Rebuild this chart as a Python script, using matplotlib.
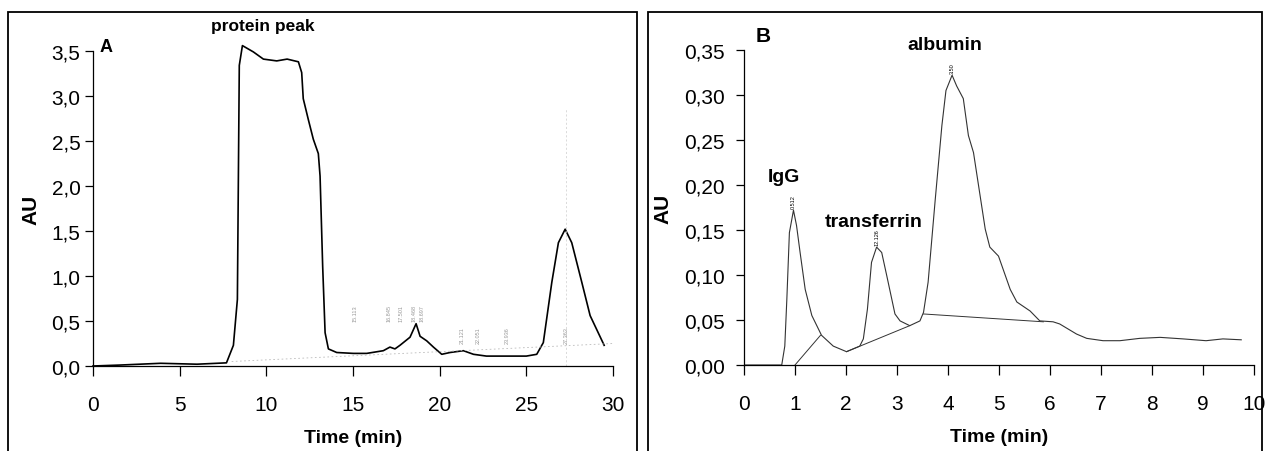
import matplotlib.pyplot as plt
from matplotlib.patches import Rectangle
from matplotlib.ticker import FuncFormatter

plt.rcParams['font.family'] = ['Liberation Sans', 'DejaVu Sans']

# panel A: whole sample chromatogram (time in min, absorbance AU)
a_time = [0.0, 1.5, 3.9, 6.0, 7.7, 8.1, 8.33, 8.44, 8.62, 9.25, 9.83, 10.6, 11.2, 11.85,
          12.04, 12.13, 12.42, 12.71, 13.0, 13.1, 13.25, 13.39, 13.58, 14.06, 15.02, 15.79,
          16.75, 17.13, 17.42, 17.71, 18.29, 18.64, 18.87, 19.25, 19.64, 20.12, 20.6,
          21.37, 21.95, 22.7, 24.06, 25.0, 25.6, 25.98, 26.47, 26.85, 27.24, 27.62, 28.2,
          28.68, 29.49]
a_au = [0.0, 0.01, 0.03, 0.02, 0.035, 0.23, 0.74, 3.34, 3.56, 3.49, 3.41, 3.39, 3.41, 3.38,
        3.26, 2.97, 2.74, 2.52, 2.36, 2.11, 1.11, 0.37, 0.19, 0.15, 0.14, 0.14,
        0.17, 0.21, 0.19, 0.23, 0.32, 0.47, 0.33, 0.28, 0.21, 0.13, 0.15,
        0.17, 0.13, 0.11, 0.11, 0.11, 0.13, 0.26, 0.93, 1.37, 1.52, 1.37, 0.93,
        0.56, 0.23]
a_peak_labels = [(15.1, '15.113'), (17.1, '16.845'), (17.8, '17.501'), (18.5, '18.468'),
                 (19.0, '18.697'), (21.3, '21.121'), (22.2, '22.051'), (23.9, '23.936'),
                 (27.3, '27.363')]

# panel B: purified fraction chromatogram
b_time = [0.0, 0.74, 0.80, 0.84, 0.89, 0.97, 1.03, 1.10, 1.20, 1.33, 1.52, 1.75, 2.01,
          2.27, 2.34, 2.42, 2.50, 2.60, 2.70, 2.80, 2.96, 3.06, 3.25, 3.45, 3.52, 3.61,
          3.75, 3.88, 3.96, 4.08, 4.17, 4.30, 4.40, 4.50, 4.73, 4.82, 4.99, 5.22, 5.35,
          5.61, 5.80, 6.06, 6.19, 6.52, 6.72, 7.04, 7.37, 7.76, 8.16, 8.61, 9.06, 9.39, 9.75]
b_au = [0.0, 0.0, 0.021, 0.073, 0.147, 0.172, 0.155, 0.125, 0.084, 0.055, 0.033, 0.021,
        0.0148, 0.021, 0.029, 0.062, 0.114, 0.131, 0.125, 0.099, 0.0567, 0.049, 0.0437,
        0.049, 0.0585, 0.092, 0.184, 0.266, 0.305, 0.322, 0.310, 0.296, 0.255, 0.236,
        0.151, 0.131, 0.121, 0.084, 0.070, 0.060, 0.049, 0.048, 0.0456, 0.0344, 0.0296,
        0.027, 0.027, 0.0296, 0.0307, 0.029, 0.027, 0.029, 0.028]
# integration baselines drawn by the software
b_base_lines = [((1.0, 1.5), (0.0, 0.033)), ((2.01, 3.25), (0.0148, 0.0437)),
                ((3.52, 5.87), (0.0567, 0.048))]
b_peaks = [(0.97, 0.172, '0.512'), (2.60, 0.131, '12.126'), (4.08, 0.322, '3.50')]

comma = FuncFormatter(lambda v, p: ('%.1f' % v).replace('.', ','))
comma2 = FuncFormatter(lambda v, p: ('%.2f' % v).replace('.', ','))

fig = plt.figure(figsize=(12.65, 4.52), dpi=100)

# frames around both panels
fig.patches.append(Rectangle((8 / 1265, -0.05), 629 / 1265, 1.05 - 13 / 452, transform=fig.transFigure,
                             fill=False, lw=1.3, ec='black'))
fig.patches.append(Rectangle((648 / 1265, -0.05), 614 / 1265, 1.05 - 13 / 452, transform=fig.transFigure,
                             fill=False, lw=1.3, ec='black'))


def style_axes(ax):
    for s in ['top', 'right']:
        ax.spines[s].set_visible(False)
    ax.spines['left'].set_linewidth(0.9)
    ax.spines['bottom'].set_linewidth(0.9)
    ax.tick_params(axis='x', direction='out', length=7, width=0.9, labelsize=15, pad=14)
    ax.tick_params(axis='y', direction='out', length=6, width=0.9, labelsize=15, pad=3)
    ax.set_xlabel('Time (min)', fontsize=14, fontweight='bold', labelpad=11)
    ax.set_ylabel('AU', fontsize=15, fontweight='bold', labelpad=8)


axA = fig.add_axes([93 / 1265, 1 - 367 / 452, 520 / 1265, 315 / 452])
axA.plot(a_time, a_au, color='black', lw=1.2, clip_on=False)
axA.plot([8.0, 30.0], [0.05, 0.25], color='#bbbbbb', lw=0.6, ls=(0, (2, 3)))
axA.axvline(27.3, ymax=0.82, color='#cccccc', lw=0.5, ls=(0, (3, 3)))
for x, lab in a_peak_labels:
    axA.text(x, 0.5 if x < 20 else 0.25, lab, rotation=90, fontsize=4, color='#999999',
             ha='center', va='bottom')
axA.set_xlim(0, 30)
axA.set_ylim(0, 3.5)
axA.set_xticks(range(0, 31, 5))
axA.set_yticks([0, 0.5, 1, 1.5, 2, 2.5, 3, 3.5])
axA.yaxis.set_major_formatter(comma)
style_axes(axA)
axA.text(0.4, 3.55, 'A', fontsize=13, fontweight='bold', va='center')
axA.text(9.8, 3.78, 'protein peak', fontsize=12.5, fontweight='bold', ha='center', va='center')

axB = fig.add_axes([744 / 1265, 1 - 366 / 452, 510 / 1265, 315 / 452])
axB.plot(b_time, b_au, color='#333333', lw=0.8)
for xs, ys in b_base_lines:
    axB.plot(xs, ys, color='#333333', lw=0.7)
for x, y, lab in b_peaks:
    axB.text(x, y + 0.002, lab, rotation=90, fontsize=4, ha='center', va='bottom')
axB.set_xlim(0, 10)
axB.set_ylim(0, 0.35)
axB.set_xticks(range(0, 11))
axB.set_yticks([0, 0.05, 0.1, 0.15, 0.2, 0.25, 0.3, 0.35])
axB.yaxis.set_major_formatter(comma2)
style_axes(axB)
axB.tick_params(axis='y', pad=8)
axB.text(0.22, 0.366, 'B', fontsize=15, fontweight='bold', va='center')
axB.text(0.79, 0.209, 'IgG', fontsize=14, fontweight='bold', ha='center', va='center')
axB.text(2.55, 0.159, 'transferrin', fontsize=14, fontweight='bold', ha='center', va='center')
axB.text(3.94, 0.356, 'albumin', fontsize=14, fontweight='bold', ha='center', va='center')

plt.savefig('out.png', dpi=100)
